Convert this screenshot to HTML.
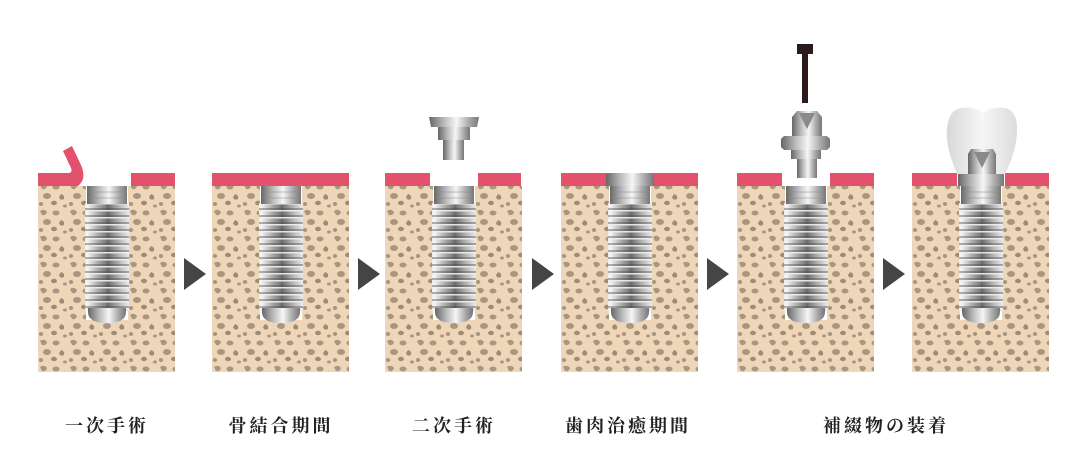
<!DOCTYPE html>
<html><head><meta charset="utf-8"><style>
html,body{margin:0;padding:0;background:#fff;width:1087px;height:475px;overflow:hidden}
.l{position:absolute;top:412px;font:bold 18px "Liberation Serif","Noto Serif CJK SC",serif;color:#222;letter-spacing:3px;transform:translateX(-50%);white-space:nowrap}
</style></head><body>
<svg width="1087" height="475" style="position:absolute;left:0;top:0">
<defs>
<pattern id="bone" width="30" height="26" patternUnits="userSpaceOnUse">
<rect width="30" height="26" fill="#efd6b8"/>
<path d="M2 3 q4 -3 7 1 q-1 4 -5 3 z" fill="#a99681"/>
<ellipse cx="18" cy="5" rx="3.5" ry="2.5" fill="#a99681"/>
<path d="M23 12 q4 1 3 5 q-4 2 -5 -2 z" fill="#9f8b75"/>
<ellipse cx="9" cy="14" rx="4" ry="3" fill="#a99681"/>
<ellipse cx="16" cy="21" rx="3" ry="2.2" fill="#9f8b75"/>
<ellipse cx="3" cy="22" rx="2.2" ry="2" fill="#a99681"/>
<ellipse cx="27" cy="24" rx="2" ry="1.5" fill="#a99681"/>
</pattern>
<linearGradient id="met" x1="0" x2="1">
<stop offset="0" stop-color="#666"/><stop offset=".3" stop-color="#bbb"/><stop offset=".55" stop-color="#f6f6f6"/><stop offset=".8" stop-color="#aaa"/><stop offset="1" stop-color="#777"/>
</linearGradient>
<linearGradient id="crown" x1="0" x2="1">
<stop offset="0" stop-color="#d8d8d8"/><stop offset=".5" stop-color="#f6f6f6"/><stop offset="1" stop-color="#dcdcdc"/>
</linearGradient>
<pattern id="thr" width="44" height="7" patternUnits="userSpaceOnUse">
<rect width="44" height="7" fill="url(#met)"/>
<rect y="0" width="44" height="1.5" fill="#f0f0f0" opacity=".9"/>
<rect y="5" width="44" height="2" fill="#444" opacity=".4"/>
</pattern>
<g id="panel">
<rect x="0" y="186" width="137" height="186" fill="url(#bone)"/>
<rect x="48" y="180" width="42" height="140" fill="#fff"/>
</g>
<g id="imp">
<rect x="-22" y="203" width="44" height="108" fill="url(#thr)"/>
<path d="M-19 308 h38 v4 q0 11 -19 11 q-19 0 -19 -11z" fill="url(#met)"/>
<rect x="-20" y="186" width="40" height="18" fill="url(#met)"/>
<line x1="-20" x2="20" y1="192" y2="192" stroke="#888" stroke-width=".6"/>
<line x1="-20" x2="20" y1="198" y2="198" stroke="#888" stroke-width=".6"/>
</g>
<polygon id="arr" points="0,0 22,16 0,32" fill="#454545"/>
</defs>
<!-- P1 -->
<g transform="translate(38,0)"><use href="#panel"/>
<rect x="93" y="173" width="44" height="13" fill="#e3526c"/>
<path d="M0 173 h30 q5 0 3 -5 l-8 -17 l9 -5 l9 19 q6 14 -3 21 h-40z" fill="#e3526c"/>
<use href="#imp" x="69"/></g>
<!-- P2 -->
<g transform="translate(212,0)"><use href="#panel"/>
<rect x="0" y="173" width="137" height="13" fill="#e3526c"/>
<use href="#imp" x="69"/></g>
<!-- P3 -->
<g transform="translate(385,0)"><use href="#panel"/>
<rect x="0" y="173" width="45" height="13" fill="#e3526c"/><rect x="93" y="173" width="43" height="13" fill="#e3526c"/>
<use href="#imp" x="69"/>
<path d="M44 117 h50 l-2 10 h-46z" fill="url(#met)"/>
<rect x="53" y="127" width="32" height="13" fill="url(#met)"/>
<rect x="58" y="140" width="21" height="20" fill="url(#met)"/></g>
<!-- P4 -->
<g transform="translate(561,0)"><use href="#panel"/>
<rect x="0" y="173" width="137" height="13" fill="#e3526c"/>
<use href="#imp" x="69"/>
<path d="M45 186 v-10 q0 -3 3 -3 h42 q3 0 3 3 v10z" fill="url(#met)"/></g>
<!-- P5 -->
<g transform="translate(737,0)"><use href="#panel"/>
<rect x="0" y="173" width="45" height="13" fill="#e3526c"/><rect x="93" y="173" width="44" height="13" fill="#e3526c"/>
<use href="#imp" x="69"/>
<rect x="60" y="44" width="16" height="10" fill="#2a1a1a"/><rect x="65" y="54" width="6" height="49" fill="#2a1a1a"/>
<path d="M55 117 l5 -6 h20 l5 6 v20 h-30z" fill="url(#met)"/>
<path d="M62 113 l8 16 l8 -16z" fill="#8a8a8a"/>
<path d="M44 139 l3 -3 h43 l3 3 v8 l-3 3 h-43 l-3 -3z" fill="url(#met)"/>
<rect x="54" y="150" width="30" height="9" fill="url(#met)"/>
<rect x="60" y="159" width="20" height="19" fill="url(#met)"/></g>
<!-- P6 -->
<g transform="translate(912,0)"><use href="#panel"/>
<rect x="0" y="173" width="45" height="13" fill="#e3526c"/><rect x="93" y="173" width="44" height="13" fill="#e3526c"/>
<use href="#imp" x="69"/>
<path d="M45 174 q-12 -28 -10 -46 q2 -18 14 -20 q12 -2 22 5 q10 -7 22 -5 q11 2 12 18 q1 22 -12 48 z" fill="url(#crown)"/>
<path d="M56 154 l3 -5 h22 l3 5 v20 h-28z" fill="url(#met)"/>
<path d="M62 152 l8 16 l8 -16z" fill="#8a8a8a"/>
<rect x="46" y="174" width="46" height="12" fill="url(#met)"/></g>
<use href="#arr" x="184" y="258"/><use href="#arr" x="358" y="258"/><use href="#arr" x="532" y="258"/><use href="#arr" x="707" y="258"/><use href="#arr" x="883" y="258"/>
</svg>
<div class="l" style="left:107px">一次手術</div>
<div class="l" style="left:281px">骨結合期間</div>
<div class="l" style="left:454px">二次手術</div>
<div class="l" style="left:628px">歯肉治癒期間</div>
<div class="l" style="left:886px">補綴物の装着</div>
</body></html>
